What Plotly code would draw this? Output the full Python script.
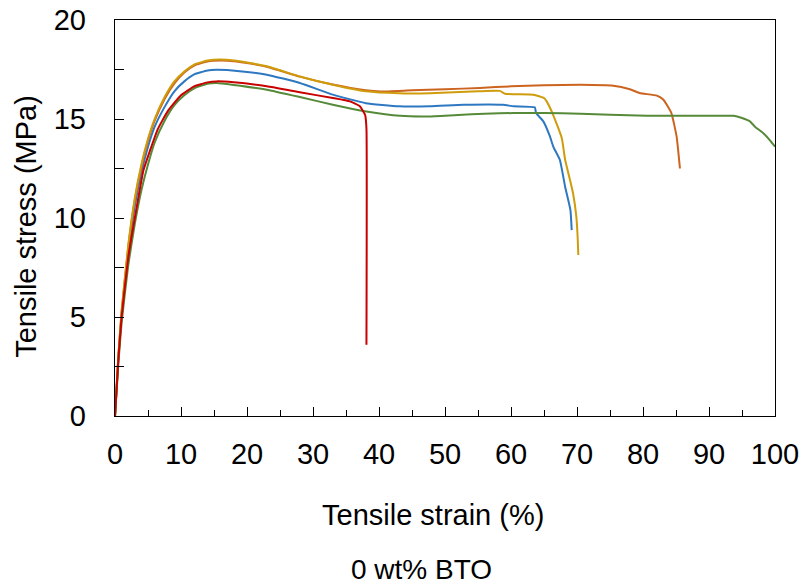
import plotly.graph_objects as go

# Tensile stress-strain curves, five specimens, 0 wt% BTO
strain_blue = [0, 0.5, 1, 2, 3, 4, 5, 6, 7.5, 9, 10.5, 12, 14, 15.4, 17, 20, 23, 28, 33, 38, 43,
               47.7, 52.8, 58.8, 60.4, 63.6, 63.8, 64.9, 65.9, 66.4, 67.4, 68.2, 69.0, 69.2]
stress_blue = [0, 2.9, 5.1, 8.3, 10.6, 12.3, 13.6, 14.6, 15.6, 16.4, 16.9, 17.25, 17.45, 17.49, 17.47,
               17.38, 17.24, 16.82, 16.23, 15.8, 15.64, 15.64, 15.72, 15.72, 15.64, 15.59, 15.3, 14.88,
               14.12, 13.61, 12.94, 11.58, 10.41, 9.39]

strain_orange = [0, 0.5, 1, 2, 3, 4, 5, 6, 7.5, 9, 10.5, 12, 14, 16, 18, 20, 23, 28, 33, 38, 40.2,
                 45, 50, 55.3, 60, 65, 70.5, 75.5, 78, 79.5, 82.1, 83.1, 84.3, 85.1, 85.6]
stress_orange = [0, 2.95, 5.25, 8.5, 10.9, 12.6, 13.9, 14.9, 16.0, 16.8, 17.35, 17.7, 17.9, 17.95,
                 17.92, 17.83, 17.64, 17.14, 16.74, 16.45, 16.39, 16.45, 16.5, 16.57, 16.65, 16.7,
                 16.73, 16.68, 16.5, 16.31, 16.18, 15.97, 15.3, 14.1, 12.5]

strain_gold = [0, 0.5, 1, 2, 3, 4, 5, 6, 7.5, 9, 10.5, 12, 14, 16, 18, 20, 23, 28, 33, 38, 43,
               47.7, 55, 58.3, 59.1, 63.4, 65.0, 65.4, 66.4, 67.7, 68.2, 69.0, 69.4, 69.9, 70.1, 70.2]
stress_gold = [0, 3.0, 5.3, 8.6, 11.0, 12.7, 14.0, 15.0, 16.1, 16.9, 17.4, 17.75, 17.95, 18.0,
               17.95, 17.85, 17.66, 17.15, 16.73, 16.4, 16.3, 16.3, 16.4, 16.42, 16.28, 16.23, 16.06,
               15.89, 15.2, 14.03, 12.94, 11.84, 11.25, 10.07, 9.0, 8.13]

strain_green = [0, 0.5, 1, 2, 3, 4, 5, 6, 7.5, 9, 10.5, 12, 14, 15.4, 18, 23, 28, 33, 38.1, 43.2,
                47.7, 52, 56, 60.4, 65, 70.5, 75, 80.6, 85, 90.7, 93.7, 95, 96.2, 97, 98.2, 99.3, 100]
stress_green = [0, 2.6, 4.7, 7.6, 9.7, 11.4, 12.7, 13.8, 14.9, 15.7, 16.2, 16.55, 16.78, 16.82,
                16.72, 16.48, 16.11, 15.72, 15.38, 15.16, 15.13, 15.2, 15.27, 15.3, 15.3, 15.27,
                15.22, 15.16, 15.17, 15.16, 15.16, 15.05, 14.88, 14.6, 14.29, 13.9, 13.6]

strain_red = [0, 0.5, 1, 2, 2.5, 3, 4.3, 5.3, 6.5, 8, 10, 12, 14, 15.4, 18, 23, 28, 33, 35.6,
              37.1, 37.9, 38.1, 38.1]
stress_red = [0, 2.8, 5.0, 8.0, 9.05, 10.0, 12.4, 13.4, 14.5, 15.4, 16.2, 16.65, 16.85, 16.9,
              16.85, 16.65, 16.35, 16.06, 15.89, 15.64, 15.2, 14.5, 3.6]

x_ticks = [0, 10, 20, 30, 40, 50, 60, 70, 80, 90, 100]
y_ticks = [0, 5, 10, 15, 20]

series = [
    (strain_blue, stress_blue, "#2E78C2"),
    (strain_orange, stress_orange, "#CC6420"),
    (strain_gold, stress_gold, "#CF9C0C"),
    (strain_green, stress_green, "#568A38"),
    (strain_red, stress_red, "#C80000"),
]

FONT = "Liberation Sans, Arial, sans-serif"

fig = go.Figure()
for xs, ys, color in series:
    fig.add_trace(go.Scatter(x=xs, y=ys, mode="lines",
                             line=dict(color=color, width=2, shape="spline", smoothing=0.4),
                             showlegend=False, hoverinfo="skip"))

axis_common = dict(
    showgrid=False, zeroline=False, showline=True, linecolor="black", linewidth=1.4,
    mirror=True, ticks="inside", tickcolor="black", tickwidth=1.4, automargin=False,
    tickfont=dict(family=FONT, size=29, color="black"),
)

fig.update_xaxes(range=[0, 100], tickvals=x_ticks, ticklen=9, ticklabelstandoff=12,
                 minor=dict(dtick=5, ticks="inside", ticklen=6, tickcolor="black", tickwidth=1.2),
                 **axis_common)
fig.update_yaxes(range=[0, 20], tickvals=y_ticks, ticklen=9, ticklabelstandoff=22,
                 minor=dict(dtick=2.5, ticks="inside", ticklen=9, tickcolor="black", tickwidth=1.2),
                 **axis_common)

title_font = dict(family=FONT, size=29, color="black")
fig.add_annotation(text="Tensile strain (%)", xref="paper", yref="paper",
                   x=0.482, y=-0.25, xanchor="center", yanchor="middle",
                   showarrow=False, font=title_font)
fig.add_annotation(text="0 wt% BTO", xref="paper", yref="paper",
                   x=0.464, y=-0.388, xanchor="center", yanchor="middle",
                   showarrow=False, font=dict(family=FONT, size=28, color="black"))
fig.add_annotation(text="Tensile stress (MPa)", xref="paper", yref="paper",
                   x=-0.135, y=0.48, xanchor="center", yanchor="middle", textangle=-90,
                   showarrow=False, font=title_font)

fig.update_layout(
    width=805, height=587,
    margin=dict(l=115, r=30, t=20, b=171),
    plot_bgcolor="white", paper_bgcolor="white",
)

fig.write_html("out.html")
